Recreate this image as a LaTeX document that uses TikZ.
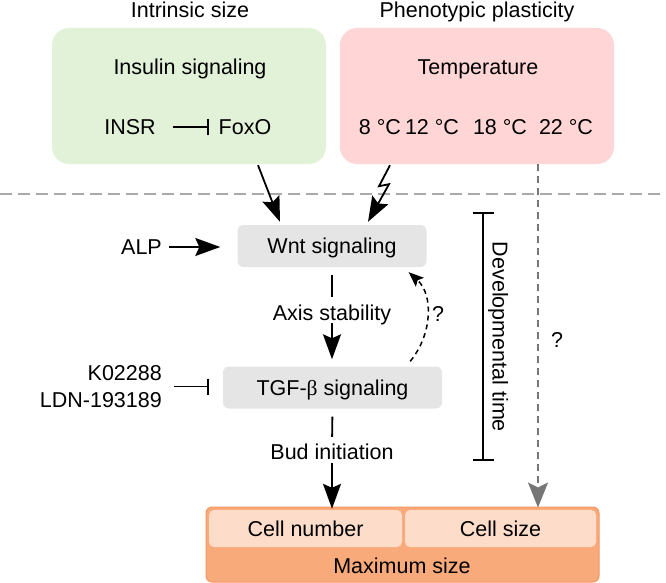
\documentclass[tikz,border=0pt]{standalone}
\usepackage{fontspec}
\setmainfont{Liberation Sans}
\newfontfamily\greekserif{Liberation Serif}
\usetikzlibrary{arrows.meta}
\definecolor{insgreen}{RGB}{226,242,216}
\definecolor{temppink}{RGB}{255,213,213}
\definecolor{siggray}{RGB}{229,229,229}
\definecolor{maxorange}{RGB}{249,170,122}
\definecolor{maxborder}{RGB}{245,152,98}
\definecolor{cellpeach}{RGB}{253,221,201}
\definecolor{sepgray}{RGB}{170,170,170}
\definecolor{arrgray}{RGB}{118,118,118}
\tikzstyle{lbl}=[align=center, inner sep=0pt, text height=15pt, text depth=0pt, font=\fontsize{21.5}{27}\selectfont]
\tikzstyle{ctxbox}=[rectangle, rounded corners=17pt, minimum width=274pt, minimum height=136pt, inner sep=0pt]
\tikzstyle{sigbox}=[lbl, rectangle, rounded corners=6pt, fill=siggray, minimum height=42pt]
\tikzstyle{cellbox}=[lbl, rectangle, rounded corners=5pt, fill=cellpeach, minimum height=37pt]
\tikzstyle{act}=[-{Stealth[length=25pt,width=18pt,inset=4pt]}, line width=1.8pt]
\tikzstyle{inh}=[-{Bar[width=16pt]}, line width=1.8pt]
\newcommand{\drawcontexts}[0]
{
  \node[ctxbox, fill=insgreen](insbox) at (189,96){};
  \node[ctxbox, fill=temppink](tempbox) at (477,96){};
  \node[lbl, above of=insbox, xshift=1pt, node distance=86pt](intrinsic) {Intrinsic size};
  \node[lbl, above of=tempbox, node distance=86pt](plasticity) {Phenotypic plasticity};
  \node[lbl, above of=insbox, xshift=1pt, node distance=29pt](insulin) {Insulin signaling};
  \node[lbl, above of=tempbox, xshift=1pt, node distance=29pt](temperature) {Temperature};
}

\begin{document}
\begin{tikzpicture}[x=1pt, y=-1pt]
	\useasboundingbox (0,0) rectangle (666,583);
	\draw[sepgray, line width=2.5pt, dash pattern=on 12pt off 6pt] (0,194) -- (666,194);

	\drawcontexts{}

	\node[lbl](insr) at (130,127) {INSR};
	\node[lbl](foxo) at (245,127) {FoxO};
	\draw[inh, shorten <=17pt, shorten >=10pt] (insr.east) -- (foxo.west);
	\node[lbl](t8) at (380,127) {8 °C};
	\node[lbl](t12) at (432,127) {12 °C};
	\node[lbl](t18) at (500,127) {18 °C};
	\node[lbl](t22) at (566,127) {22 °C};

	% signaling cascade
	\node[sigbox, minimum width=189pt](wnt) at (332,246) {Wnt signaling};
	\node[lbl, anchor=east](alp) at (162,247) {ALP};
	\draw[act, shorten <=7pt, shorten >=17pt] (alp.east) -- (alp.east -| wnt.west);
	\draw[act] ([xshift=69pt, yshift=-1pt]insbox.south) -- ([xshift=-52pt, yshift=3pt]wnt.north);
	\draw[act] ([xshift=-87pt, yshift=-1pt]tempbox.south) -- ++(-11,21) -- ++(10,-2) -- ([xshift=36pt, yshift=3pt]wnt.north);

	\node[lbl, below of=wnt, node distance=67pt](axis) {Axis stability};
	\node[sigbox, minimum width=219pt, below of=axis, node distance=74.5pt, xshift=0.5pt](tgf) {TGF-{\greekserif β} signaling};
	\draw[line width=1.8pt, shorten <=8pt, shorten >=8.5pt] (wnt.south) -- (axis.north);
	\draw[act, shorten <=2.5pt, shorten >=7pt] (axis.south) -- (axis.south |- tgf.north);
	\draw[-{Stealth[length=15pt,width=12pt,inset=3pt]}, line width=1.5pt, dash pattern=on 5pt off 4pt] ([xshift=-32pt, yshift=5pt]tgf.north east) .. controls (432,335) and (434,295) .. ([xshift=-18pt, yshift=-5pt]wnt.south east);
	\node[lbl](qfeed) at (438,314) {?};

	\node[lbl, align=right, anchor=east, text height=, text depth=](drugs) at (162,386.5) {K02288\\LDN-193189};
	\draw[inh, shorten <=12pt, shorten >=14pt] (drugs.east) -- (drugs.east -| tgf.west);

	\node[lbl, below of=tgf, node distance=64.5pt, xshift=-0.5pt](bud) {Bud initiation};
	\draw[line width=1.8pt, shorten <=8pt, shorten >=7.5pt] (tgf.south) -- (bud.north);

	% maximum size
	\node[rectangle, rounded corners=6pt, fill=maxorange, draw=maxborder, line width=1pt, minimum width=393pt, minimum height=75pt](maxbox) at (402.5,544.5) {};
	\node[cellbox, minimum width=193pt](cellnum) at (305.5,528.5) {Cell number};
	\node[cellbox, minimum width=191pt](cellsize) at (500.5,528.5) {Cell size};
	\node[lbl](maxsize) at (402,566) {Maximum size};
	\draw[act, shorten <=3.5pt, shorten >=1pt] (bud.south) -- (bud.south |- cellnum.north);

	% developmental time
	\coordinate (devtop) at (483,212);
	\coordinate (devbot) at (483,461);
	\draw[{Bar[width=21pt]}-{Bar[width=21pt]}, line width=1.8pt] (devtop) -- (devbot);
	\node[lbl, rotate=-90](devtime) at (500,337) {Developmental time};

	\coordinate (sizeline) at (538,340);
	\draw[arrgray, -{Stealth[length=25pt,width=20pt,inset=5pt]}, line width=1.6pt, dash pattern=on 7pt off 5pt, shorten >=-1pt] (tempbox.south -| sizeline) -- (maxbox.north -| sizeline);
	\node[lbl](qsize) at (557,340) {?};

\end{tikzpicture}
\end{document}
